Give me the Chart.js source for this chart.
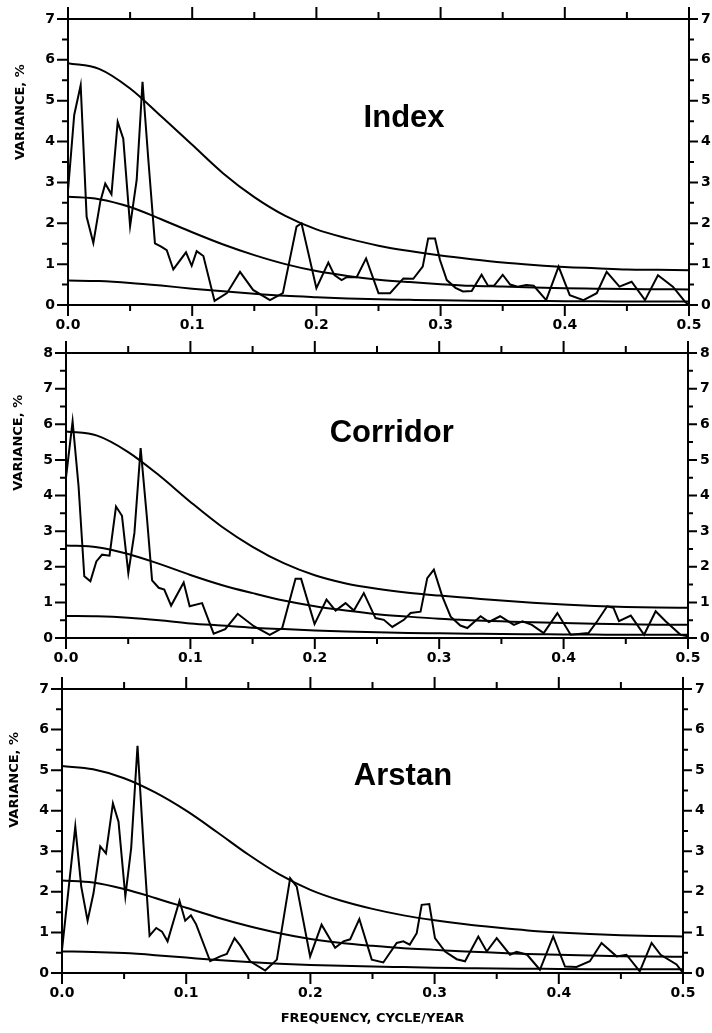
<!DOCTYPE html>
<html>
<head>
<meta charset="utf-8">
<title>Variance spectra</title>
<script src="https://cdn.jsdelivr.net/npm/chart.js@4.4.1/dist/chart.umd.min.js"></script>
<style>
  html, body { margin: 0; padding: 0; background: #fff; }
  #wrap { position: relative; width: 712px; height: 1033px; overflow: hidden; }
  #wrap canvas { position: absolute; left: 0; }
</style>
</head>
<body>
<div id="wrap">
  <canvas id="pIndex" width="712" height="340" style="top:0px"></canvas>
  <canvas id="pCorridor" width="712" height="340" style="top:335px"></canvas>
  <canvas id="pArstan" width="712" height="368" style="top:665px"></canvas>
</div>
<script>
// tick labels
const xTickLabels = ['0.0', '0.1', '0.2', '0.3', '0.4', '0.5'];
const yTickLabels = ['0', '1', '2', '3', '4', '5', '6', '7', '8'];

// frequencies where the three smooth reference curves were read (every 0.025)
const curveFreq = [0, 0.025, 0.05, 0.075, 0.1, 0.125, 0.15, 0.175, 0.2, 0.225, 0.25,
  0.275, 0.3, 0.325, 0.35, 0.375, 0.4, 0.425, 0.45, 0.475, 0.5];

// --- Index ---
const indexFreq = [0, 0.005, 0.0102, 0.015, 0.0204, 0.026, 0.03, 0.035, 0.04, 0.0445, 0.05, 0.0553, 0.06, 0.0647,
  0.07, 0.075, 0.0795, 0.0848, 0.095, 0.0996, 0.1036, 0.109, 0.118, 0.128, 0.1385, 0.149, 0.1626, 0.173,
  0.184, 0.188, 0.2, 0.2096, 0.2145, 0.2203, 0.2244, 0.2324, 0.24, 0.25, 0.2593, 0.27, 0.278, 0.2856,
  0.29, 0.2955, 0.2995, 0.305, 0.312, 0.318, 0.325, 0.333, 0.338, 0.343, 0.35, 0.356, 0.362, 0.369, 0.375,
  0.385, 0.395, 0.404, 0.415, 0.4257, 0.4337, 0.444, 0.4538, 0.4646, 0.475, 0.487, 0.4968, 0.5];
const indexVar = [2.8, 4.65, 5.38, 2.16, 1.52, 2.53, 2.97, 2.71, 4.48, 4.07, 1.93, 3.06, 5.46, 3.55,
  1.51, 1.43, 1.34, 0.87, 1.29, 0.96, 1.32, 1.2, 0.1, 0.29, 0.81, 0.37, 0.12, 0.29,
  1.92, 2.0, 0.41, 1.04, 0.73, 0.61, 0.68, 0.68, 1.14, 0.29, 0.29, 0.65, 0.64, 0.94,
  1.63, 1.63, 1.1, 0.61, 0.42, 0.33, 0.34, 0.74, 0.48, 0.47, 0.74, 0.5, 0.45, 0.49, 0.47,
  0.12, 0.94, 0.24, 0.12, 0.29, 0.81, 0.45, 0.57, 0.12, 0.73, 0.45, 0.08, 0.0];
const indexUpper = [5.92, 5.78, 5.3, 4.62, 3.92, 3.22, 2.64, 2.18, 1.85, 1.63, 1.45,
  1.32, 1.21, 1.12, 1.04, 0.98, 0.93, 0.9, 0.87, 0.86, 0.85];
const indexNull = [2.65, 2.59, 2.4, 2.1, 1.78, 1.48, 1.22, 1.0, 0.83, 0.71, 0.62,
  0.56, 0.51, 0.47, 0.45, 0.43, 0.41, 0.4, 0.39, 0.385, 0.38];
const indexLower = [0.6, 0.585, 0.54, 0.475, 0.4, 0.335, 0.275, 0.225, 0.19, 0.16, 0.14,
  0.127, 0.115, 0.106, 0.1, 0.097, 0.093, 0.09, 0.088, 0.087, 0.086];

// --- Corridor ---
const corridorFreq = [0, 0.0053, 0.0101, 0.0147, 0.0196, 0.0244, 0.029, 0.035, 0.0402, 0.045, 0.0501, 0.055, 0.06,
  0.0652, 0.0692, 0.0745, 0.079, 0.0845, 0.0946, 0.0994, 0.1094, 0.1187, 0.128, 0.138, 0.151, 0.1638, 0.1738,
  0.1845, 0.189, 0.1998, 0.2094, 0.2167, 0.2247, 0.2314, 0.2394, 0.2488, 0.2555, 0.2623, 0.2716, 0.277, 0.285,
  0.2904, 0.2957, 0.3025, 0.3092, 0.317, 0.3226, 0.3333, 0.34, 0.349, 0.36, 0.367, 0.3745, 0.384, 0.395,
  0.4057, 0.42, 0.427, 0.435, 0.44, 0.4445, 0.454, 0.4647, 0.474, 0.482, 0.494, 0.5];
const corridorVar = [4.5, 6.08, 4.26, 1.73, 1.59, 2.15, 2.34, 2.31, 3.69, 3.43, 1.82, 2.95, 5.33,
  3.32, 1.62, 1.41, 1.36, 0.91, 1.56, 0.89, 0.98, 0.12, 0.25, 0.68, 0.33, 0.09, 0.28,
  1.66, 1.66, 0.39, 1.08, 0.77, 0.98, 0.77, 1.26, 0.56, 0.51, 0.31, 0.51, 0.7, 0.74,
  1.68, 1.92, 1.17, 0.6, 0.35, 0.28, 0.61, 0.45, 0.61, 0.37, 0.47, 0.37, 0.14, 0.7,
  0.09, 0.14, 0.47, 0.89, 0.85, 0.47, 0.63, 0.09, 0.75, 0.47, 0.09, 0.05];
const corridorUpper = [5.8, 5.68, 5.22, 4.56, 3.82, 3.13, 2.56, 2.1, 1.76, 1.53, 1.38,
  1.27, 1.19, 1.12, 1.05, 0.99, 0.94, 0.9, 0.87, 0.855, 0.85];
const corridorNull = [2.6, 2.55, 2.36, 2.08, 1.77, 1.49, 1.26, 1.05, 0.89, 0.77, 0.67,
  0.6, 0.54, 0.5, 0.47, 0.44, 0.42, 0.4, 0.385, 0.375, 0.37];
const corridorLower = [0.62, 0.61, 0.57, 0.5, 0.41, 0.35, 0.29, 0.25, 0.21, 0.18, 0.16,
  0.14, 0.13, 0.12, 0.11, 0.105, 0.1, 0.095, 0.09, 0.09, 0.09];

// --- Arstan ---
const arstanFreq = [0, 0.0107, 0.0155, 0.0206, 0.0254, 0.0308, 0.0354, 0.041, 0.0455, 0.051, 0.0557, 0.0608,
  0.0657, 0.0705, 0.0759, 0.0805, 0.085, 0.0946, 0.0992, 0.1038, 0.108, 0.1193, 0.1274, 0.1327, 0.1389,
  0.1434, 0.1515, 0.1636, 0.173, 0.1837, 0.189, 0.1998, 0.209, 0.2199, 0.2266, 0.232, 0.2394, 0.2494,
  0.2587, 0.2695, 0.2748, 0.28, 0.2856, 0.2896, 0.2957, 0.3003, 0.3084, 0.3178, 0.3245, 0.3352, 0.342,
  0.35, 0.3607, 0.366, 0.3745, 0.3848, 0.3955, 0.405, 0.4143, 0.425, 0.4344, 0.4465, 0.4545, 0.4652,
  0.4747, 0.482, 0.4948, 0.5];
const arstanVar = [0.57, 3.61, 2.13, 1.29, 1.97, 3.12, 2.95, 4.18, 3.73, 1.89, 3.08, 5.6,
  3.12, 0.92, 1.11, 1.02, 0.78, 1.78, 1.29, 1.42, 1.2, 0.29, 0.41, 0.47, 0.86,
  0.68, 0.29, 0.06, 0.33, 2.34, 2.13, 0.41, 1.19, 0.62, 0.78, 0.83, 1.33, 0.33,
  0.26, 0.74, 0.78, 0.7, 0.98, 1.68, 1.7, 0.86, 0.53, 0.34, 0.29, 0.9, 0.53,
  0.86, 0.45, 0.52, 0.45, 0.08, 0.9, 0.16, 0.15, 0.29, 0.74, 0.41, 0.45, 0.04,
  0.74, 0.45, 0.21, 0.0];
const arstanUpper = [5.1, 5.02, 4.8, 4.45, 4.0, 3.47, 2.92, 2.43, 2.05, 1.78, 1.58,
  1.42, 1.3, 1.2, 1.12, 1.05, 1.0, 0.96, 0.93, 0.91, 0.9];
const arstanNull = [2.28, 2.23, 2.07, 1.85, 1.61, 1.37, 1.16, 0.98, 0.84, 0.74, 0.67,
  0.61, 0.57, 0.53, 0.5, 0.47, 0.45, 0.43, 0.415, 0.405, 0.4];
const arstanLower = [0.53, 0.52, 0.49, 0.44, 0.38, 0.32, 0.27, 0.23, 0.2, 0.18, 0.16,
  0.145, 0.13, 0.12, 0.11, 0.105, 0.1, 0.095, 0.09, 0.09, 0.09];

function pairs(xs, ys) {
  return xs.map(function (x, i) { return { x: x, y: ys[i] }; });
}

const tickFont = { family: "'DejaVu Sans', sans-serif", weight: 'bold', size: 14 };

// minor/major tick marks, panel name and the y title
const panelDecor = {
  id: 'panelDecor',
  afterDraw(chart, args, opts) {
    const ctx = chart.ctx, a = chart.chartArea;
    const sx = chart.scales.x, sy = chart.scales.y;
    ctx.save();
    ctx.strokeStyle = '#000';
    ctx.lineWidth = 2;
    ctx.beginPath();
    for (let i = 0; i <= 10; i++) {
      const px = sx.getPixelForValue(i * 0.05);
      const major = i % 2 === 0;
      ctx.moveTo(px, a.top); ctx.lineTo(px, a.top - (major ? 12 : 7));
      ctx.moveTo(px, a.bottom); ctx.lineTo(px, a.bottom + (major ? 11 : 6));
    }
    for (let i = 0; i <= opts.yMax * 2; i++) {
      const py = sy.getPixelForValue(i * 0.5);
      const major = i % 2 === 0;
      ctx.moveTo(a.left, py); ctx.lineTo(a.left - (major ? 11 : 6), py);
      ctx.moveTo(a.right, py); ctx.lineTo(a.right + (major ? 9 : 5), py);
    }
    ctx.stroke();

    ctx.fillStyle = '#000';
    ctx.font = "bold 31px 'Liberation Sans', Arial, sans-serif";
    ctx.textAlign = 'left';
    ctx.textBaseline = 'alphabetic';
    ctx.fillText(opts.name, sx.getPixelForValue(opts.nameAt[0]), sy.getPixelForValue(opts.nameAt[1]));

    ctx.translate(a.left - 47, sy.getPixelForValue(opts.yTitleAt));
    ctx.rotate(-Math.PI / 2);
    ctx.font = "bold 13px 'DejaVu Sans', sans-serif";
    ctx.textAlign = 'center';
    ctx.textBaseline = 'middle';
    ctx.fillText('VARIANCE, %', 0, 0);
    ctx.restore();
  }
};

function drawPanel(id, p) {
  const line = { borderColor: '#000', borderWidth: 2, pointRadius: 0, fill: false };
  const curve = Object.assign({}, line, { cubicInterpolationMode: 'monotone' });
  new Chart(document.getElementById(id), {
    type: 'line',
    data: {
      datasets: [
        Object.assign({ data: pairs(p.freq, p.vals), tension: 0 }, line),
        Object.assign({ data: pairs(curveFreq, p.upper) }, curve),
        Object.assign({ data: pairs(curveFreq, p.nul) }, curve),
        Object.assign({ data: pairs(curveFreq, p.lower) }, curve)
      ]
    },
    options: {
      responsive: false,
      animation: false,
      events: [],
      plugins: {
        legend: { display: false },
        tooltip: { enabled: false },
        panelDecor: { name: p.name, nameAt: p.nameAt, yTitleAt: p.yTitleAt, yMax: p.yMax }
      },
      scales: {
        x: {
          type: 'linear', axis: 'x', position: 'bottom', min: 0, max: 0.5,
          grid: { display: false, tickLength: 11 },
          border: { display: true, color: '#000', width: 2 },
          ticks: {
            stepSize: 0.1, autoSkip: false, maxRotation: 0, padding: 1, color: '#000', font: tickFont,
            callback: function (v, i) { return xTickLabels[i]; }
          },
          title: {
            display: !!p.xTitle, text: p.xTitle || '', color: '#000',
            font: { family: "'DejaVu Sans', sans-serif", weight: 'bold', size: 13 },
            padding: { top: 0, bottom: 7 }
          },
          afterFit: function (s) { s.height = p.box[2]; }
        },
        xTop: {
          type: 'linear', axis: 'x', position: 'top', min: 0, max: 0.5,
          grid: { display: false, tickLength: 12 },
          border: { display: true, color: '#000', width: 2 },
          ticks: { display: false, stepSize: 0.1 },
          afterFit: function (s) { s.height = p.box[0]; }
        },
        y: {
          type: 'linear', axis: 'y', position: 'left', min: 0, max: p.yMax,
          grid: { display: false, tickLength: 11 },
          border: { display: true, color: '#000', width: 2 },
          ticks: {
            stepSize: 1, padding: 2, color: '#000', font: tickFont,
            callback: function (v, i) { return yTickLabels[i]; }
          },
          afterFit: function (s) { s.width = p.box[3]; }
        },
        yRight: {
          type: 'linear', axis: 'y', position: 'right', min: 0, max: p.yMax,
          grid: { display: false, tickLength: 9 },
          border: { display: true, color: '#000', width: 2 },
          ticks: {
            stepSize: 1, padding: 3, color: '#000', font: tickFont,
            callback: function (v, i) { return yTickLabels[i]; }
          },
          afterFit: function (s) { s.width = p.box[1]; }
        }
      }
    },
    plugins: [panelDecor]
  });
}

// box = [top, right, bottom, left] axis sizes in px
drawPanel('pIndex', {
  name: 'Index', nameAt: [0.238, 4.35], yTitleAt: 4.72, yMax: 7, box: [19, 23, 35, 68],
  freq: indexFreq, vals: indexVar, upper: indexUpper, nul: indexNull, lower: indexLower
});
drawPanel('pCorridor', {
  name: 'Corridor', nameAt: [0.212, 5.51], yTitleAt: 5.48, yMax: 8, box: [18, 24, 37, 66],
  freq: corridorFreq, vals: corridorVar, upper: corridorUpper, nul: corridorNull, lower: corridorLower
});
drawPanel('pArstan', {
  name: 'Arstan', nameAt: [0.235, 4.64], yTitleAt: 4.76, yMax: 7, box: [24, 29, 60, 62],
  freq: arstanFreq, vals: arstanVar, upper: arstanUpper, nul: arstanNull, lower: arstanLower,
  xTitle: 'FREQUENCY, CYCLE/YEAR'
});
</script>
</body>
</html>
